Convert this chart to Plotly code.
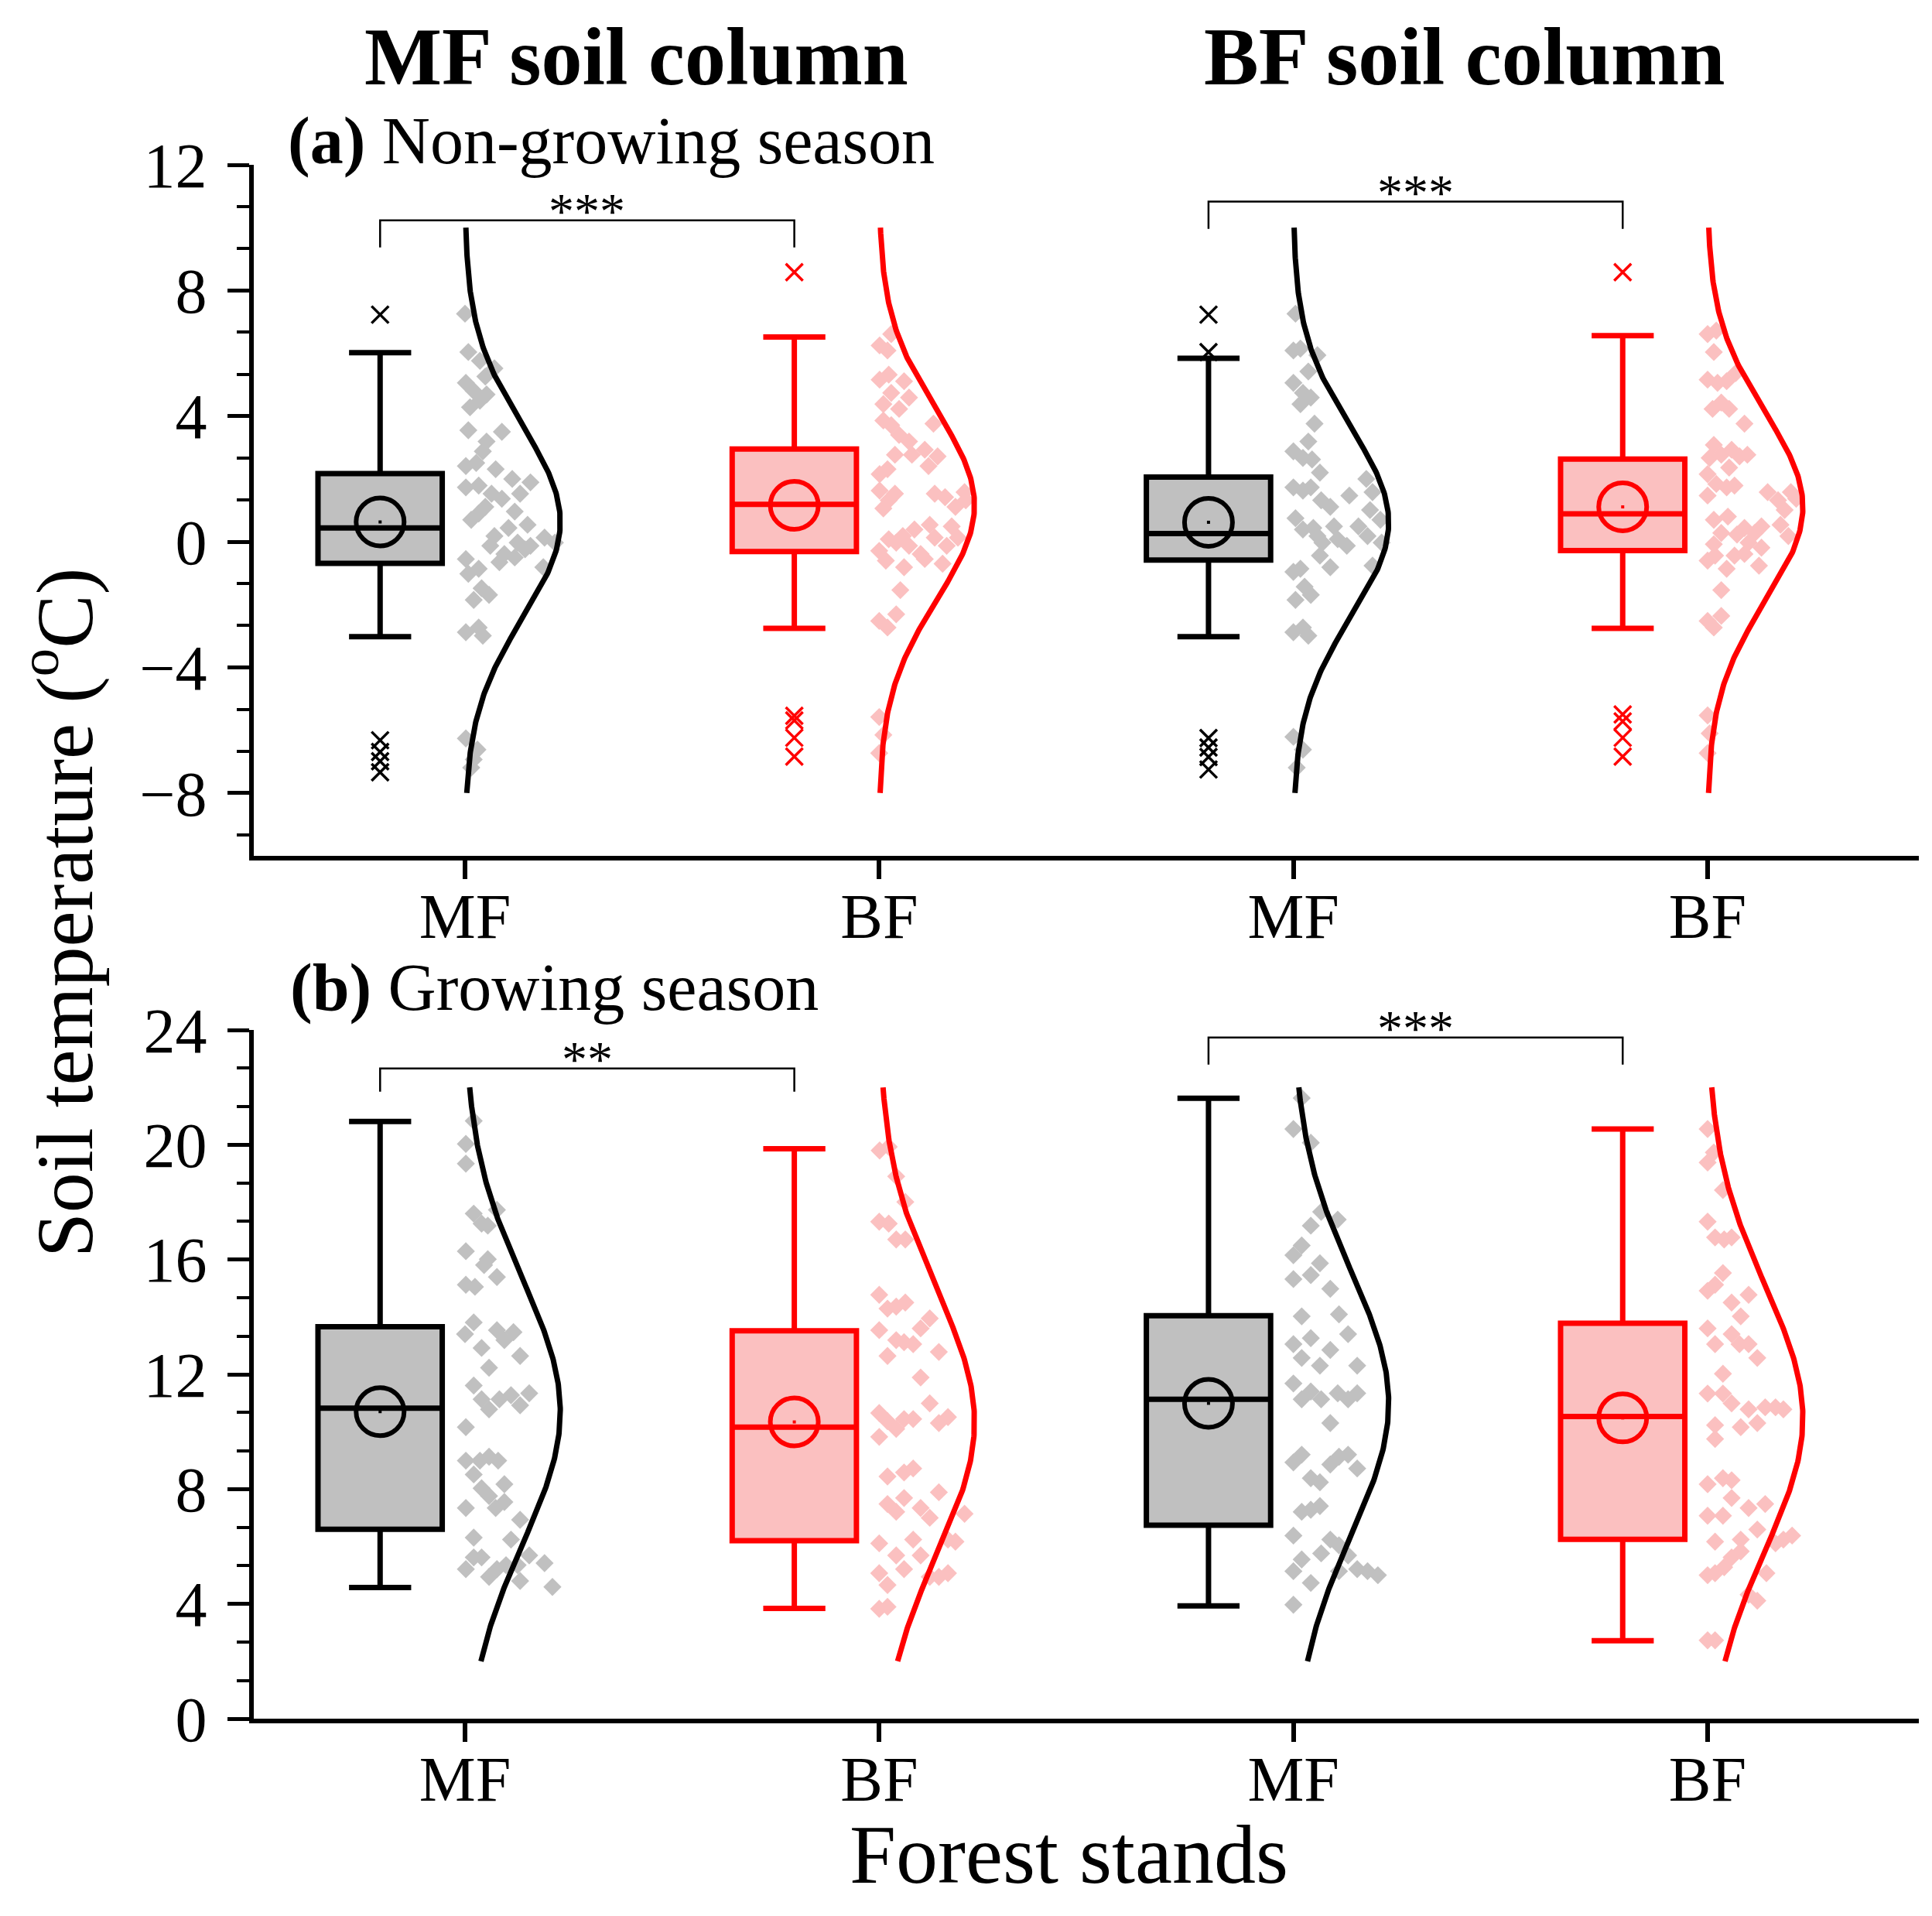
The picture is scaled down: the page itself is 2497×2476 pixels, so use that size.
import numpy as np
import plotly.graph_objects as go

FONT = "Liberation Serif"

# ---- categories / labels ----
stand_labels = ["MF", "BF", "MF", "BF"]
column_titles = ["MF soil column", "BF soil column"]
panel_titles = ["<b>(a)</b> Non-growing season", "<b>(b)</b> Growing season"]
line_colors = ["#000000", "#ff0000", "#000000", "#ff0000"]
fill_colors = ["#c0c0c0", "#fbc0c0", "#c0c0c0", "#fbc0c0"]

# ---- (a) non-growing season: box statistics (soil temperature, degC) ----
ng_upper = [6.02, 6.52, 5.84, 6.56]
ng_q3 = [2.17, 2.95, 2.06, 2.63]
ng_median = [0.44, 1.19, 0.26, 0.89]
ng_q1 = [-0.69, -0.31, -0.58, -0.28]
ng_lower = [-3.02, -2.76, -3.02, -2.76]
ng_mean = [0.63, 1.16, 0.62, 1.11]
ng_sd = [3.05, 3.0, 3.0, 3.0]
ng_outliers = [
    [7.23, -6.32, -6.69, -6.99, -7.34],
    [8.58, -5.54, -5.69, -6.24, -6.84],
    [7.23, 6.04, -6.25, -6.55, -6.85, -7.25],
    [8.58, -5.50, -5.72, -6.24, -6.84],
]

ng_mf_mf = [7.26, 6.04, 5.76, 5.52, 5.26, 5.06, 4.80, 4.69, 4.28, 4.49, 3.55, 3.50, 3.19, 2.88,
            2.41, 2.51, 2.31, 2.00, 1.89, 1.73, 1.79, 1.53, 1.53, 1.37, 1.11, 0.96, 0.70, 0.54,
            0.44, 0.90, 0.18, -0.13, -0.39, -0.03, -0.13, 0.13, -0.03, -0.65, -0.50, -0.81,
            -0.24, -0.55, -1.02, -0.86, -1.48, -1.85, -1.69, -2.88, -2.73, -2.99, -6.26, -6.62,
            -7.19, -6.93]
ng_mf_mf_jit = [0.0, 0.008, 0.036, 0.071, 0.049, 0.002, 0.021, 0.052, 0.012, 0.036, 0.008, 0.089,
                0.052, 0.043, 0.002, 0.027, 0.074, 0.114, 0.158, 0.002, 0.033, 0.064, 0.133, 0.089,
                0.049, 0.120, 0.015, 0.151, 0.105, 0.033, 0.071, 0.061, 0.095, 0.127, 0.158, 0.192,
                0.217, 0.083, 0.120, 0.189, 0.145, 0.002, 0.008, 0.033, 0.040, 0.021, 0.058, 0.002,
                0.033, 0.043, 0.002, 0.030, 0.015, 0.021]
ng_mf_bf = [6.61, 6.25, 6.09, 5.16, 5.32, 5.11, 4.74, 4.38, 4.23, 4.59, 3.86, 3.71, 3.76, 3.40,
            3.19, 2.77, 2.77, 2.93, 2.72, 2.41, 2.15, 2.31, 1.63, 1.53, 1.06, 1.32, 1.53, 1.42,
            1.11, 1.58, 1.32, 0.49, 0.13, 0.39, 0.54, 0.18, 0.08, -0.29, -0.60, -0.13, -0.39,
            0.13, -0.13, -0.81, -0.55, -0.70, -0.03, -1.54, -2.52, -2.31, -2.73, -5.58, -6.15,
            -6.73]
ng_mf_bf_jit = [0.029, 0.001, 0.020, 0.001, 0.023, 0.060, 0.029, 0.010, 0.048, 0.072, 0.010, 0.029,
                0.131, 0.048, 0.072, 0.038, 0.079, 0.110, 0.141, 0.119, 0.001, 0.020, 0.001, 0.038,
                0.010, 0.023, 0.134, 0.159, 0.184, 0.206, 0.209, 0.175, 0.190, 0.085, 0.122, 0.057,
                0.023, 0.0, 0.016, 0.072, 0.100, 0.134, 0.163, 0.060, 0.110, 0.153, 0.041, 0.051,
                0.0, 0.041, 0.020, 0.0, 0.010, 0.0]
ng_bf_mf = [7.26, 6.09, 6.15, 5.94, 5.42, 5.06, 4.74, 4.59, 4.38, 3.76, 3.19, 2.88, 2.67, 2.62,
            2.20, 1.73, 1.63, 1.73, 1.32, 1.11, 1.47, 2.00, 1.58, 1.01, 0.70, 0.75, 0.39, 0.44,
            -0.03, 0.49, 0.08, -0.13, 0.49, 0.18, -0.03, -0.44, -0.81, -0.76, 0.18, -0.96, -0.86,
            -1.43, -1.85, -1.69, -2.88, -2.73, -2.99, -6.21, -6.62, -7.19]
ng_bf_mf_jit = [0.005, 0.0, 0.017, 0.058, 0.036, 0.0, 0.023, 0.042, 0.017, 0.051, 0.036, 0.0,
                0.023, 0.045, 0.064, 0.0, 0.023, 0.042, 0.067, 0.089, 0.135, 0.176, 0.191, 0.185,
                0.210, 0.005, 0.023, 0.048, 0.070, 0.098, 0.107, 0.129, 0.157, 0.179, 0.213, 0.064,
                0.089, 0.191, 0.058, 0.0, 0.017, 0.027, 0.005, 0.042, 0.0, 0.023, 0.036, 0.0,
                0.023, 0.008]
ng_bf_bf = [6.61, 6.72, 6.04, 5.16, 5.06, 5.11, 5.37, 4.23, 4.43, 4.23, 3.76, 3.08, 2.67, 2.77,
            2.93, 2.72, 2.77, 2.36, 2.15, 1.84, 1.73, 1.79, 1.47, 1.58, 1.32, 1.58, 1.37, 1.01,
            0.70, 0.80, 0.28, 0.23, 0.44, 0.28, 0.49, 0.54, 0.18, -0.08, -0.60, -0.44, -0.86,
            -0.44, -0.39, -0.76, -0.19, -0.03, -1.54, -2.52, -2.36, -2.73, -5.53, -6.10, -6.73]
ng_bf_bf_jit = [0.0, 0.021, 0.015, 0.0, 0.024, 0.046, 0.068, 0.012, 0.033, 0.052, 0.089, 0.015,
                0.005, 0.033, 0.058, 0.077, 0.096, 0.052, 0.0, 0.021, 0.046, 0.065, 0.0, 0.145,
                0.170, 0.201, 0.214, 0.186, 0.015, 0.049, 0.033, 0.071, 0.089, 0.114, 0.130, 0.176,
                0.195, 0.015, 0.0, 0.018, 0.046, 0.065, 0.089, 0.124, 0.130, 0.099, 0.033, 0.0,
                0.033, 0.015, 0.0, 0.005, 0.0]

# ---- (b) growing season ----
gs_upper = [20.81, 19.86, 21.62, 20.55]
gs_q3 = [13.66, 13.52, 14.04, 13.78]
gs_median = [10.82, 10.16, 11.13, 10.53]
gs_q1 = [6.60, 6.20, 6.74, 6.25]
gs_lower = [4.57, 3.84, 3.93, 2.72]
gs_mean = [10.70, 10.34, 10.99, 10.48]
gs_sd = [4.6, 4.6, 4.6, 4.6]
gs_outliers = [[], [], [], []]

gs_mf_mf = [20.83, 20.03, 19.34, 17.60, 17.25, 17.73, 17.18, 16.29, 15.81, 16.01, 15.39, 15.12,
            15.05, 13.81, 13.40, 12.92, 13.54, 13.19, 13.47, 12.64, 12.23, 11.61, 11.13, 10.78,
            11.13, 11.27, 10.92, 11.34, 10.16, 8.99, 8.99, 9.13, 8.99, 8.51, 8.17, 8.03, 7.76,
            7.34, 7.55, 7.34, 6.93, 6.31, 6.24, 5.62, 5.62, 5.21, 4.94, 5.21, 5.35, 5.35, 5.69,
            5.42, 4.80, 4.59]
gs_mf_mf_jit = [0.021, 0.002, 0.002, 0.021, 0.040, 0.077, 0.055, 0.002, 0.046, 0.055, 0.077, 0.002,
                0.024, 0.021, 0.0, 0.040, 0.077, 0.095, 0.117, 0.133, 0.058, 0.021, 0.040, 0.058,
                0.083, 0.111, 0.133, 0.155, 0.002, 0.002, 0.036, 0.058, 0.080, 0.021, 0.095, 0.040,
                0.058, 0.074, 0.095, 0.002, 0.133, 0.021, 0.111, 0.021, 0.040, 0.002, 0.058, 0.077,
                0.099, 0.127, 0.155, 0.192, 0.133, 0.211]
gs_mf_bf = [19.80, 19.93, 18.90, 18.01, 17.32, 17.25, 16.70, 16.70, 14.77, 14.29, 14.36, 14.50,
            13.60, 13.95, 13.54, 13.19, 13.12, 13.05, 12.64, 12.78, 11.89, 10.99, 10.30, 10.51,
            10.65, 10.37, 10.10, 10.44, 10.44, 9.82, 8.44, 8.58, 8.72, 7.89, 7.69, 7.48, 7.21,
            7.34, 7.00, 7.14, 6.11, 6.24, 6.24, 6.17, 5.69, 5.21, 5.69, 4.94, 4.94, 5.07, 5.07,
            4.66, 3.83, 3.90]
gs_mf_bf_jit = [0.001, 0.023, 0.041, 0.063, 0.0, 0.023, 0.041, 0.063, 0.0, 0.020, 0.041, 0.063,
                0.100, 0.122, 0.0, 0.041, 0.060, 0.082, 0.020, 0.144, 0.100, 0.122, 0.144, 0.166,
                0.0, 0.020, 0.041, 0.060, 0.082, 0.0, 0.020, 0.060, 0.082, 0.144, 0.060, 0.020,
                0.041, 0.100, 0.122, 0.206, 0.0, 0.082, 0.166, 0.184, 0.041, 0.060, 0.100, 0.122,
                0.144, 0.166, 0.0, 0.020, 0.0, 0.020]
gs_bf_mf = [21.63, 20.55, 20.07, 17.66, 17.39, 17.18, 16.49, 16.15, 15.87, 15.46, 15.32, 14.98,
            14.02, 14.09, 13.40, 13.05, 13.26, 12.57, 12.30, 12.85, 12.30, 11.68, 11.13, 11.40,
            11.13, 11.34, 11.13, 11.34, 10.30, 8.93, 9.20, 8.86, 9.13, 9.20, 8.72, 8.38, 8.24,
            7.21, 7.28, 7.41, 6.38, 6.24, 5.76, 6.04, 5.69, 5.55, 5.14, 4.73, 5.14, 5.21, 5.14,
            5.00, 3.97]
gs_bf_mf_jit = [0.020, 0.0, 0.042, 0.067, 0.107, 0.042, 0.020, 0.0, 0.064, 0.042, 0.0, 0.089,
                0.020, 0.110, 0.132, 0.0, 0.042, 0.020, 0.064, 0.089, 0.154, 0.0, 0.020, 0.042,
                0.067, 0.107, 0.132, 0.154, 0.089, 0.0, 0.020, 0.089, 0.110, 0.132, 0.154, 0.042,
                0.064, 0.020, 0.042, 0.064, 0.0, 0.089, 0.067, 0.110, 0.132, 0.020, 0.0, 0.042,
                0.110, 0.154, 0.179, 0.204, 0.0]
gs_bf_bf = [20.55, 19.73, 19.38, 18.42, 17.32, 16.77, 16.70, 16.77, 15.53, 14.91, 15.12, 14.50,
            14.77, 14.02, 13.60, 13.05, 13.40, 13.05, 13.05, 12.57, 12.02, 11.33, 11.33, 10.99,
            10.78, 10.85, 10.85, 10.78, 10.30, 10.16, 10.23, 9.75, 8.17, 8.38, 8.31, 7.69, 7.07,
            7.07, 7.34, 7.48, 6.17, 6.24, 6.59, 6.11, 6.38, 6.24, 5.62, 5.83, 5.00, 5.07, 5.28,
            5.07, 4.32, 4.11, 2.73, 2.73]
gs_bf_bf_jit = [0.0, 0.015, 0.0, 0.037, 0.0, 0.018, 0.040, 0.058, 0.037, 0.0, 0.018, 0.058,
                0.099, 0.080, 0.0, 0.018, 0.058, 0.077, 0.099, 0.120, 0.037, 0.0, 0.037, 0.058,
                0.099, 0.139, 0.164, 0.183, 0.120, 0.080, 0.018, 0.018, 0.0, 0.037, 0.058, 0.058,
                0.0, 0.037, 0.099, 0.139, 0.018, 0.080, 0.120, 0.164, 0.204, 0.183, 0.058, 0.080,
                0.0, 0.018, 0.040, 0.142, 0.099, 0.120, 0.0, 0.018]

# significance brackets: (left group, right group, label, top, leg bottom)
ng_sig = [(0, 1, "***", 10.23, 9.37), (2, 3, "***", 10.83, 9.96)]
gs_sig = [(0, 1, "**", 22.66, 21.85), (2, 3, "***", 23.74, 22.79)]

# normal curve extent per panel
ng_curve_span = (-8, 10)
gs_curve_span = (2, 22)

panels = [
    dict(upper=ng_upper, q3=ng_q3, median=ng_median, q1=ng_q1, lower=ng_lower, mean=ng_mean,
         sd=ng_sd, outliers=ng_outliers,
         points=[ng_mf_mf, ng_mf_bf, ng_bf_mf, ng_bf_bf],
         jitter=[ng_mf_mf_jit, ng_mf_bf_jit, ng_bf_mf_jit, ng_bf_bf_jit],
         sig=ng_sig, span=ng_curve_span, xa="x", ya="y"),
    dict(upper=gs_upper, q3=gs_q3, median=gs_median, q1=gs_q1, lower=gs_lower, mean=gs_mean,
         sd=gs_sd, outliers=gs_outliers,
         points=[gs_mf_mf, gs_mf_bf, gs_bf_mf, gs_bf_bf],
         jitter=[gs_mf_mf_jit, gs_mf_bf_jit, gs_bf_mf_jit, gs_bf_bf_jit],
         sig=gs_sig, span=gs_curve_span, xa="x2", ya="y2"),
]

BOX_SHIFT = -0.205   # box sits left of the category tick
BOX_W = 0.30
PEAK = 0.23          # width of the normal curve at its maximum

W, H = 2497, 2476
M_L, M_R, M_T, M_B = 320, 25, 205, 263
PW, PH = W - M_L - M_R, H - M_T - M_B


def px(x):
    return (x - M_L) / PW


def py(y):
    return (H - M_B - y) / PH


fig = go.Figure()

# boxes first so the scatter layer (means) stays on top
for p in panels:
    for i in range(4):
        fig.add_trace(go.Box(
            x=[i + 1 + BOX_SHIFT], q1=[p["q1"][i]], median=[p["median"][i]], q3=[p["q3"][i]],
            lowerfence=[p["lower"][i]], upperfence=[p["upper"][i]],
            width=BOX_W, whiskerwidth=0.5, fillcolor=fill_colors[i],
            line=dict(color=line_colors[i], width=7), boxpoints=False,
            xaxis=p["xa"], yaxis=p["ya"], hoverinfo="skip"))

for p in panels:
    for i in range(4):
        pos = i + 1
        # data points
        fig.add_trace(go.Scatter(
            x=[pos + j for j in p["jitter"][i]], y=p["points"][i], mode="markers",
            marker=dict(symbol="diamond", size=18, color=fill_colors[i], line=dict(width=0)),
            xaxis=p["xa"], yaxis=p["ya"]))
    for i in range(4):
        pos = i + 1
        # normal distribution curve of the group
        ys = np.linspace(p["span"][0], p["span"][1], 300)
        xs = pos + PEAK * np.exp(-0.5 * ((ys - p["mean"][i]) / p["sd"][i]) ** 2)
        fig.add_trace(go.Scatter(x=xs, y=ys, mode="lines",
                                 line=dict(color=line_colors[i], width=7),
                                 xaxis=p["xa"], yaxis=p["ya"]))
        bx = pos + BOX_SHIFT
        if p["outliers"][i]:
            fig.add_trace(go.Scatter(
                x=[bx] * len(p["outliers"][i]), y=p["outliers"][i], mode="markers",
                marker=dict(symbol="x-thin-open", size=22, color=line_colors[i],
                            line=dict(width=3.5, color=line_colors[i])),
                xaxis=p["xa"], yaxis=p["ya"]))
        fig.add_trace(go.Scatter(
            x=[bx], y=[p["mean"][i]], mode="markers",
            marker=dict(symbol="circle-open", size=62, color=line_colors[i],
                        line=dict(width=6, color=line_colors[i])),
            xaxis=p["xa"], yaxis=p["ya"]))
        fig.add_trace(go.Scatter(
            x=[bx], y=[p["mean"][i]], mode="markers",
            marker=dict(symbol="square", size=4, color=line_colors[i]),
            xaxis=p["xa"], yaxis=p["ya"]))
    for a, b, label, top, leg in p["sig"]:
        x1, x2 = a + 1 + BOX_SHIFT, b + 1 + BOX_SHIFT
        fig.add_trace(go.Scatter(x=[x1, x1, x2, x2], y=[leg, top, top, leg], mode="lines",
                                 line=dict(color="black", width=2.5), cliponaxis=False,
                                 xaxis=p["xa"], yaxis=p["ya"]))
        fig.add_annotation(x=(x1 + x2) / 2, y=top, xref=p["xa"], yref=p["ya"], text=label,
                           showarrow=False, yanchor="middle", yshift=12,
                           font=dict(family=FONT, size=66, color="black"))

tick_font = dict(family=FONT, size=82, color="black")
xcommon = dict(range=[0.49, 4.51], tickmode="array", tickvals=[1, 2, 3, 4], ticktext=stand_labels,
               ticks="outside", ticklen=24, tickwidth=6, tickcolor="black", showline=True,
               linewidth=6, linecolor="black", showgrid=False, zeroline=False,
               tickfont=tick_font, ticklabelstandoff=-22)
ycommon = dict(ticks="outside", ticklen=28, tickwidth=5, tickcolor="black", showline=True,
               linewidth=6, linecolor="black", showgrid=False, zeroline=False, tickfont=tick_font,
               tick0=0, dtick=4, ticklabelstandoff=10,
               minor=dict(ticks="outside", tick0=0, dtick=4 / 3, ticklen=16, tickwidth=4,
                          tickcolor="black", showgrid=False))

fig.update_layout(
    width=W, height=H, showlegend=False, plot_bgcolor="white", paper_bgcolor="white",
    margin=dict(l=M_L, r=M_R, t=M_T, b=M_B), boxmode="overlay",
    xaxis=dict(xcommon, anchor="y"),
    yaxis=dict(ycommon, domain=[py(1098), 1], range=[-10, 12], anchor="x"),
    xaxis2=dict(xcommon, anchor="y2"),
    yaxis2=dict(ycommon, domain=[0, py(1323)], range=[0, 24], anchor="x2"),
)

title_font = dict(family=FONT, size=106, color="black")
for t, cx in zip(column_titles, [814, 1884]):
    fig.add_annotation(x=px(cx), y=py(66), xref="paper", yref="paper", text="<b>" + t + "</b>",
                       showarrow=False, xanchor="center", yanchor="middle", font=title_font)
for t, (lx, ly) in zip(panel_titles, [(362, 174), (365, 1268)]):
    fig.add_annotation(x=px(lx), y=py(ly), xref="paper", yref="paper", text=t, showarrow=False,
                       xanchor="left", yanchor="middle",
                       font=dict(family=FONT, size=86, color="black"))
fig.add_annotation(x=px(68), y=py(1172), xref="paper", yref="paper",
                   text="Soil temperature (<sup>o</sup>C)", textangle=-90, showarrow=False,
                   xanchor="center", yanchor="middle",
                   font=dict(family=FONT, size=104, color="black"))
fig.add_annotation(x=px(1373), y=py(2388), xref="paper", yref="paper", text="Forest stands",
                   showarrow=False, xanchor="center", yanchor="middle",
                   font=dict(family=FONT, size=108, color="black"))

fig.write_html("out.html")
